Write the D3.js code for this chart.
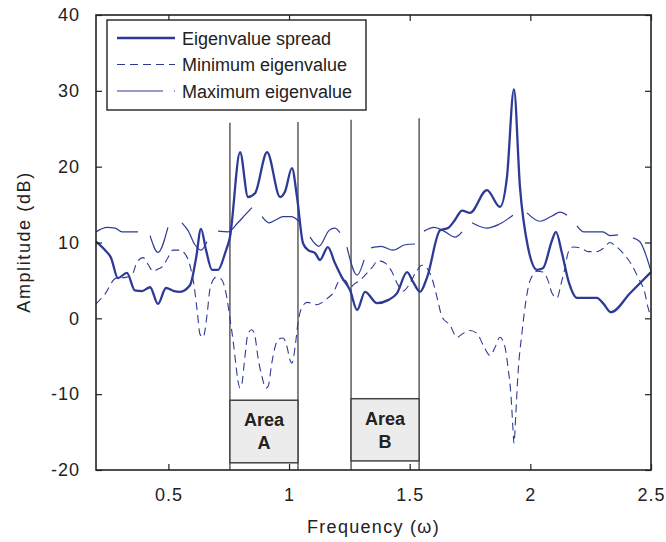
<!DOCTYPE html>
<html>
<head>
<meta charset="utf-8">
<script src="https://cdn.jsdelivr.net/npm/d3@7"></script>
<style>
  body { margin: 0; background: #fff; }
  svg { display: block; font-family: "Liberation Sans", Arial, sans-serif; }
</style>
</head>
<body>
<div id="chart"></div>
<script>
// eigenvalue spread (thick line)
const spreadFreq = [0.200,0.237,0.262,0.291,0.328,0.361,0.391,0.424,0.457,0.490,0.523,0.548,0.590,0.615,0.635,0.656,0.681,0.706,0.735,0.755,0.797,0.830,0.859,0.909,0.963,0.983,1.012,1.033,1.058,1.079,1.108,1.128,1.161,1.190,1.219,1.253,1.282,1.315,1.365,1.410,1.447,1.489,1.514,1.543,1.572,1.626,1.659,1.688,1.717,1.750,1.820,1.874,1.903,1.932,1.957,1.990,2.028,2.052,2.090,2.106,2.131,2.160,2.193,2.276,2.301,2.334,2.413,2.500];
const spreadAmp = [10.1,9.0,8.0,5.3,6.0,3.7,3.6,4.1,1.9,4.0,3.6,3.5,4.4,8.0,11.8,9.0,6.4,6.4,8.6,10.7,21.9,16.0,16.5,21.9,16.0,16.7,19.8,16.0,9.9,9.0,8.6,7.7,9.4,7.3,5.4,3.7,1.1,3.5,2.0,2.4,3.3,6.1,4.8,3.5,5.4,11.6,11.9,13.0,14.2,13.9,16.9,14.7,18.6,30.2,17.3,9.4,6.4,6.6,10.3,11.4,8.6,4.7,2.7,2.7,2.0,0.8,3.3,6.1];

// minimum eigenvalue (dashed)
const minFreq = [0.200,0.237,0.283,0.324,0.349,0.370,0.395,0.416,0.436,0.457,0.478,0.498,0.519,0.544,0.569,0.590,0.606,0.619,0.631,0.644,0.660,0.673,0.697,0.718,0.739,0.755,0.768,0.780,0.788,0.797,0.805,0.817,0.830,0.846,0.859,0.871,0.888,0.904,0.913,0.929,0.942,0.954,0.975,0.992,1.004,1.012,1.025,1.037,1.054,1.075,1.095,1.116,1.137,1.161,1.182,1.211,1.232,1.253,1.273,1.294,1.315,1.344,1.369,1.398,1.427,1.448,1.473,1.497,1.526,1.551,1.572,1.592,1.613,1.634,1.667,1.696,1.721,1.750,1.779,1.804,1.833,1.854,1.874,1.895,1.907,1.920,1.928,1.932,1.940,1.949,1.965,1.978,1.999,2.028,2.052,2.073,2.090,2.111,2.127,2.144,2.156,2.177,2.214,2.239,2.276,2.301,2.330,2.351,2.384,2.421,2.446,2.475,2.487,2.500];
const minAmp = [1.9,3.2,5.3,5.4,5.7,7.4,8.0,7.1,6.2,6.5,6.9,8.0,9.0,9.0,8.5,6.9,4.4,1.1,-2.1,-2.5,0.4,4.0,5.4,5.2,3.3,0.0,-2.9,-6.2,-8.2,-9.2,-8.6,-5.1,-2.0,-1.5,-2.4,-5.1,-7.7,-9.2,-9.0,-5.8,-3.8,-2.8,-2.6,-3.8,-5.5,-5.9,-3.8,-0.6,1.5,2.1,2.0,1.8,2.1,2.7,3.3,5.0,5.0,4.1,4.6,5.0,5.7,6.7,7.6,7.3,6.1,4.6,3.6,4.4,6.1,7.0,6.6,5.3,2.8,0.2,-0.9,-2.5,-2.0,-1.6,-2.0,-3.5,-4.9,-3.8,-2.5,-3.8,-6.4,-10.3,-14.6,-16.5,-12.5,-7.2,-2.0,1.5,5.0,6.2,6.1,5.0,3.3,2.7,4.5,6.7,8.6,9.4,9.2,8.8,8.8,9.2,10.0,9.6,8.6,7.0,5.4,3.3,1.5,0.2];

// maximum eigenvalue (thin line, broken into pieces; null = gap)
const maxFreq = [0.200,0.246,0.279,0.308,0.374,0.40, 0.424,0.457,0.498,0.53, 0.556,0.581,0.610,0.635,0.660,0.68, 0.706,0.747,0.788,0.817,0.846,0.87, 0.888,0.917,0.946,0.975,1.008,1.045,1.07, 1.087,1.124,1.166,1.190,1.211,1.225, 1.240,1.282,1.311,1.325, 1.340,1.381,1.431,1.481,1.522,1.54, 1.559,1.601,1.642,1.688,1.717,1.74, 1.758,1.820,1.870,1.928,1.96, 1.986,2.040,2.090,2.123,2.152,2.17, 2.193,2.222,2.301,2.330,2.363,2.39, 2.425,2.454,2.500];
const maxAmp = [11.4,12.0,11.9,11.4,11.4,null, 10.9,8.7,12.0,null, 12.6,11.6,9.7,9.0,10.1,null, 11.5,11.4,12.6,13.6,14.6,null, 13.4,12.6,13.0,13.4,13.4,12.7,null, 10.7,9.5,11.6,11.9,11.3,null, 9.4,5.7,7.7,null, 9.3,9.5,9.0,9.7,9.8,null, 11.5,12.0,11.5,10.7,11.4,null, 12.6,11.9,12.4,13.6,null, 13.9,12.8,13.5,14.0,13.6,null, 12.2,11.4,11.4,10.9,11.0,null, 10.6,10.1,6.2];

// area markers
const bandEdges = [0.755, 1.037, 1.257, 1.539];
const bandTops = [25.8, 25.9, 26.2, 26.4];
const areaNames = ['A', 'B'];
const areaFrom = [0.755, 1.257];
const areaTo = [1.037, 1.539];
const areaTop = [-10.8, -10.6];
const areaBottom = [-19.05, -18.8];

const xTicks = [0.5, 1, 1.5, 2, 2.5];
const yTicks = [-20, -10, 0, 10, 20, 30, 40];

const W = 666, H = 542;
const m = {left: 96, top: 15, right: 15, bottom: 72};
const w = W - m.left - m.right, h = H - m.top - m.bottom;
const blue = '#2e3b96';

const svg = d3.select('#chart').append('svg').attr('width', W).attr('height', H);
const g = svg.append('g').attr('transform', `translate(${m.left},${m.top})`);

const x = d3.scaleLinear().domain([0.2, 2.5]).range([0, w]);
const y = d3.scaleLinear().domain([-20, 40]).range([h, 0]);

// vertical band lines
g.append('g').selectAll('line').data(bandEdges).enter().append('line')
  .attr('x1', d => x(d)).attr('x2', d => x(d))
  .attr('y1', (d, i) => y(bandTops[i])).attr('y2', h)
  .attr('stroke', '#333').attr('stroke-width', 1.2);

const line = d3.line()
  .defined(d => d[1] != null)
  .x(d => x(d[0])).y(d => y(d[1]))
  .curve(d3.curveMonotoneX);

const zip = (a, b) => a.map((v, i) => [v, b[i]]);

g.append('path').datum(zip(minFreq, minAmp))
  .attr('fill', 'none').attr('stroke', blue).attr('stroke-width', 1.1)
  .attr('stroke-dasharray', '8,5').attr('d', line);
g.append('path').datum(zip(maxFreq, maxAmp))
  .attr('fill', 'none').attr('stroke', blue).attr('stroke-width', 1.2).attr('d', line);
g.append('path').datum(zip(spreadFreq, spreadAmp))
  .attr('fill', 'none').attr('stroke', blue).attr('stroke-width', 2.3)
  .attr('stroke-linejoin', 'round').attr('d', line);

// area boxes
const boxes = g.append('g').selectAll('g').data(areaNames).enter().append('g');
boxes.append('rect')
  .attr('x', (d, i) => x(areaFrom[i])).attr('y', (d, i) => y(areaTop[i]))
  .attr('width', (d, i) => x(areaTo[i]) - x(areaFrom[i]))
  .attr('height', (d, i) => y(areaBottom[i]) - y(areaTop[i]))
  .attr('fill', '#ececec').attr('stroke', '#444').attr('stroke-width', 1.5);
boxes.append('text')
  .attr('x', (d, i) => (x(areaFrom[i]) + x(areaTo[i])) / 2)
  .attr('y', (d, i) => y(areaTop[i]) + 26)
  .attr('text-anchor', 'middle').attr('font-size', 18).attr('font-weight', 'bold').attr('fill', '#222')
  .text('Area');
boxes.append('text')
  .attr('x', (d, i) => (x(areaFrom[i]) + x(areaTo[i])) / 2)
  .attr('y', (d, i) => y(areaTop[i]) + 49)
  .attr('text-anchor', 'middle').attr('font-size', 18).attr('font-weight', 'bold').attr('fill', '#222')
  .text(d => d);

// axes with inward ticks
const fmt = d => String(d);
g.append('g').attr('transform', `translate(0,${h})`)
  .call(d3.axisBottom(x).tickValues(xTicks).tickFormat(fmt).tickSize(-6).tickPadding(18));
g.append('g')
  .call(d3.axisLeft(y).tickValues(yTicks).tickFormat(fmt).tickSize(-6).tickPadding(16));
g.append('g').call(d3.axisTop(x).tickValues(xTicks).tickFormat('').tickSize(-6));
g.append('g').attr('transform', `translate(${w},0)`)
  .call(d3.axisRight(y).tickValues(yTicks).tickFormat('').tickSize(-6));
g.selectAll('.domain').remove();
g.selectAll('.tick line').attr('stroke', '#222').attr('stroke-width', 1.2);
g.selectAll('.tick text').attr('font-size', 18).attr('letter-spacing', 1).attr('fill', '#222')
  .attr('font-family', '"Liberation Sans", Arial, sans-serif');

g.append('rect').attr('width', w).attr('height', h)
  .attr('fill', 'none').attr('stroke', '#222').attr('stroke-width', 1.6);

svg.append('text').attr('x', m.left + w / 2).attr('y', 533)
  .attr('text-anchor', 'middle').attr('font-size', 18).attr('letter-spacing', 1.3).attr('fill', '#222')
  .text('Frequency (ω)');
svg.append('text').attr('transform', `translate(30,242) rotate(-90)`)
  .attr('text-anchor', 'middle').attr('font-size', 18).attr('letter-spacing', 1.6).attr('fill', '#222')
  .text('Amplitude (dB)');

// legend
const legendNames = ['Eigenvalue spread', 'Minimum eigenvalue', 'Maximum eigenvalue'];
const legendWidth = [2.3, 1.1, 1.2];
const legendDash = [null, '8,5', '46,11,2'];
const lg = svg.append('g');
lg.append('rect').attr('x', 107).attr('y', 20).attr('width', 259).attr('height', 90)
  .attr('fill', '#fff').attr('stroke', '#222').attr('stroke-width', 1.4);
const rows = lg.selectAll('g.row').data(legendNames).enter().append('g')
  .attr('transform', (d, i) => `translate(0,${38 + i * 26.5})`);
rows.append('line').attr('x1', 117).attr('x2', 175)
  .attr('stroke', blue).attr('stroke-width', (d, i) => legendWidth[i])
  .attr('stroke-dasharray', (d, i) => legendDash[i]);
rows.append('text').attr('x', 182).attr('y', 6.5)
  .attr('font-size', 18).attr('fill', '#222').text(d => d);
</script>
</body>
</html>
